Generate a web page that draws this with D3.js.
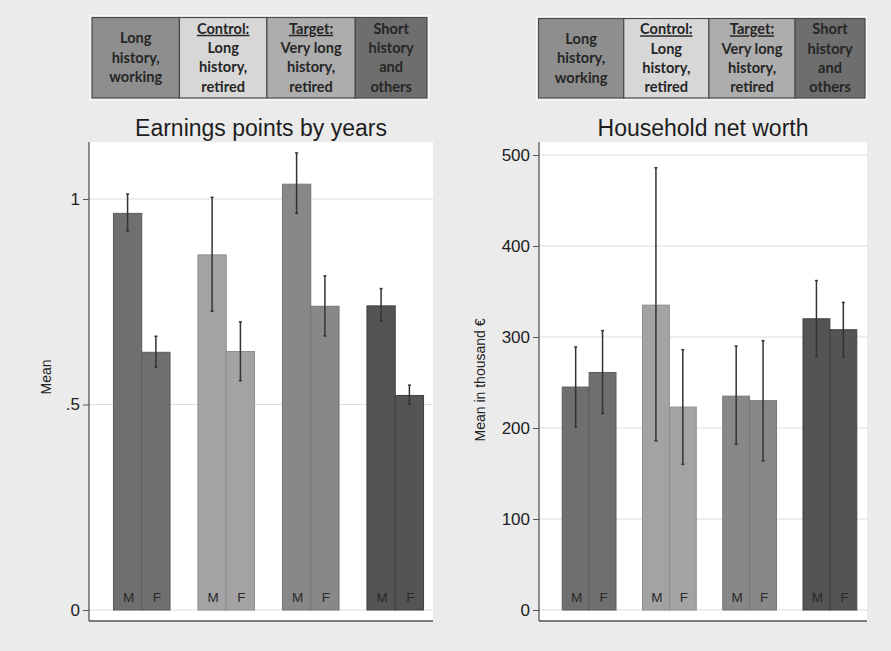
<!DOCTYPE html>
<html>
<head>
<meta charset="utf-8">
<script src="https://cdn.jsdelivr.net/npm/d3@7"></script>
<style>
  html, body { margin: 0; padding: 0; background: #ebebeb; }
  svg { display: block; }
</style>
</head>
<body>
<script>
// ---- data ----
const groups = ["Long history, working", "Control: Long history, retired",
                "Target: Very long history, retired", "Short history and others"];
const sexes = ["M", "F"];

// Earnings points by years: mean with confidence bounds
const earnMeanM = [0.965, 0.864, 1.036, 0.740];
const earnMeanF = [0.627, 0.629, 0.739, 0.522];
const earnLoM   = [0.922, 0.727, 0.965, 0.703];
const earnHiM   = [1.012, 1.004, 1.112, 0.782];
const earnLoF   = [0.591, 0.558, 0.667, 0.501];
const earnHiF   = [0.666, 0.701, 0.813, 0.547];

// Household net worth (thousand €)
const worthMeanM = [245, 335, 235, 320];
const worthMeanF = [261, 223, 230, 308];
const worthLoM   = [201, 186, 182, 278];
const worthHiM   = [289, 486, 290, 362];
const worthLoF   = [216, 160, 164, 278];
const worthHiF   = [307, 286, 296, 338];

const earnTicks  = [0, 0.5, 1];
const earnTickLabels = ["0", ".5", "1"];
const worthTicks = [0, 100, 200, 300, 400, 500];

// legend cells: header (underlined) + lines
const legendHeaders = ["", "Control:", "Target:", ""];
const legendLines = [
  ["Long", "history,", "working"],
  ["Long", "history,", "retired"],
  ["Very long", "history,", "retired"],
  ["Short", "history", "and", "others"]
];

const barFill    = ["#6f6f6f", "#a3a3a3", "#888888", "#545454"];
const barStroke  = ["#5c5c5c", "#8e8e8e", "#767676", "#404040"];
const legendFill = ["#8e8e8e", "#d7d7d7", "#adadad", "#6e6e6e"];

// ---- layout ----
const SANS = "'Liberation Sans', Arial, Helvetica, sans-serif";
const W = 891, H = 651;
const svg = d3.select("body").append("svg").attr("width", W).attr("height", H);
svg.append("rect").attr("width", W).attr("height", H).attr("fill", "#ebebeb");

function rows(mM, mF, loM, hiM, loF, hiF) {
  return groups.map((g, i) => ({
    group: g, gi: i,
    bars: [
      { sex: "M", v: mM[i], lo: loM[i], hi: hiM[i] },
      { sex: "F", v: mF[i], lo: loF[i], hi: hiF[i] }
    ]
  }));
}

function panel(cfg) {
  const g = svg.append("g");
  const { left, right, top, bottom } = cfg.frame;

  // white plot region
  g.append("rect").attr("x", left).attr("y", top)
    .attr("width", right - left).attr("height", bottom - top).attr("fill", "#ffffff");

  const y = d3.scaleLinear().domain(cfg.yDomain).range(cfg.yRange);
  const x = d3.scaleBand().domain(groups).range(cfg.xRange)
    .paddingInner(0.33).paddingOuter(0.165);
  const xs = d3.scaleBand().domain(sexes).range([0, x.bandwidth()]);

  // gridlines
  g.append("g").selectAll("line").data(cfg.ticks).join("line")
    .attr("x1", left).attr("x2", right)
    .attr("y1", d => y(d)).attr("y2", d => y(d))
    .attr("stroke", "#dedede").attr("stroke-width", 1.2);

  // bars
  const data = rows(...cfg.series);
  const grp = g.append("g").selectAll("g").data(data).join("g")
    .attr("transform", d => `translate(${x(d.group)},0)`);

  grp.selectAll("rect").data(d => d.bars.map(b => ({ ...b, gi: d.gi }))).join("rect")
    .attr("x", d => xs(d.sex))
    .attr("y", d => y(d.v))
    .attr("width", xs.bandwidth())
    .attr("height", d => y(0) - y(d.v))
    .attr("fill", d => barFill[d.gi])
    .attr("stroke", d => barStroke[d.gi])
    .attr("stroke-width", 1);

  // M / F labels at the base of each bar
  grp.selectAll("text.sx").data(d => d.bars).join("text")
    .attr("class", "sx")
    .attr("x", d => xs(d.sex) + xs.bandwidth() / 2 + 1)
    .attr("y", y(0) - 8.5)
    .attr("text-anchor", "middle")
    .attr("font-family", SANS)
    .attr("font-size", 13.5)
    .attr("fill", "#2a2a2a")
    .text(d => d.sex);

  // error bars
  const eb = grp.selectAll("g.eb").data(d => d.bars).join("g").attr("class", "eb")
    .attr("transform", d => `translate(${xs(d.sex) + xs.bandwidth() / 2},0)`);
  eb.append("line").attr("x1", 0).attr("x2", 0)
    .attr("y1", d => y(d.lo)).attr("y2", d => y(d.hi))
    .attr("stroke", "#333").attr("stroke-width", 1.5);
  eb.append("line").attr("x1", -1.5).attr("x2", 1.5)
    .attr("y1", d => y(d.hi)).attr("y2", d => y(d.hi))
    .attr("stroke", "#333").attr("stroke-width", 1.5);
  eb.append("line").attr("x1", -1.5).attr("x2", 1.5)
    .attr("y1", d => y(d.lo)).attr("y2", d => y(d.lo))
    .attr("stroke", "#333").attr("stroke-width", 1.5);

  // y axis
  const ax = d3.axisLeft(y).tickValues(cfg.ticks).tickSize(6).tickPadding(3)
    .tickFormat((d, i) => cfg.tickLabels[i]);
  const ag = g.append("g").attr("transform", `translate(${left},0)`).call(ax);
  ag.select(".domain").remove();
  ag.selectAll(".tick line").attr("stroke", "#555");
  ag.selectAll(".tick text").attr("font-family", SANS)
    .attr("font-size", 17).attr("fill", "#222");

  // axis frame lines (left + bottom)
  g.append("line").attr("x1", left).attr("x2", left).attr("y1", top).attr("y2", bottom)
    .attr("stroke", "#555").attr("stroke-width", 1.3);
  g.append("line").attr("x1", left).attr("x2", right).attr("y1", bottom).attr("y2", bottom)
    .attr("stroke", "#555").attr("stroke-width", 1.3);

  // y title
  g.append("text")
    .attr("transform", `translate(${cfg.yTitleX},${cfg.yTitleY}) rotate(-90)`)
    .attr("text-anchor", "middle")
    .attr("font-family", SANS)
    .attr("font-size", 14).attr("fill", "#222")
    .text(cfg.yTitle);

  // panel title
  g.append("text")
    .attr("x", (left + right) / 2).attr("y", 135.5)
    .attr("text-anchor", "middle")
    .attr("font-family", SANS)
    .attr("font-size", 23).attr("fill", "#1e1e1e")
    .text(cfg.title);

  // legend strip above the panel
  const L = cfg.legend;
  const lg = svg.append("g");
  const fracs = [0.261, 0.261, 0.264, 0.214];
  let cx = L.x0;
  const cells = fracs.map((f, i) => {
    const w = f * (L.x1 - L.x0);
    const c = { x: cx, w, i };
    cx += w;
    return c;
  });
  lg.append("rect").attr("x", L.x0 - 1.5).attr("y", L.y0 - 1.5)
    .attr("width", L.x1 - L.x0 + 3).attr("height", L.y1 - L.y0 + 3)
    .attr("fill", "none").attr("stroke", "#f6f6f6").attr("stroke-width", 2);
  lg.selectAll("rect.cell").data(cells).join("rect").attr("class", "cell")
    .attr("x", d => d.x).attr("y", L.y0)
    .attr("width", d => d.w).attr("height", L.y1 - L.y0)
    .attr("fill", d => legendFill[d.i])
    .attr("stroke", "#4a4a4a").attr("stroke-width", 1.2);

  const lineH = 19.3;
  const midY = (L.y0 + L.y1) / 2;
  cells.forEach(c => {
    const lines = (legendHeaders[c.i] ? [legendHeaders[c.i]] : []).concat(legendLines[c.i]);
    const n = lines.length;
    lines.forEach((t, k) => {
      const ty = midY + (k - (n - 1) / 2) * lineH + 5;
      const isHead = legendHeaders[c.i] && k === 0;
      lg.append("text")
        .attr("x", c.x + c.w / 2).attr("y", ty)
        .attr("text-anchor", "middle")
        .attr("font-family", "Lato, 'Open Sans', sans-serif")
        .attr("font-weight", 700)
        .attr("font-size", 14.6)
        .attr("fill", "#262626")
        .attr("text-decoration", isHead ? "underline" : null)
        .text(t);
    });
  });
}

panel({
  frame: { left: 89, right: 433, top: 142, bottom: 621 },
  xRange: [99.5, 437.5],
  yDomain: [0, 1], yRange: [610, 199],
  ticks: earnTicks, tickLabels: earnTickLabels,
  series: [earnMeanM, earnMeanF, earnLoM, earnHiM, earnLoF, earnHiF],
  yTitle: "Mean", yTitleX: 51, yTitleY: 377,
  title: "Earnings points by years",
  legend: { x0: 92, x1: 427, y0: 17.5, y1: 98 }
});

panel({
  frame: { left: 539, right: 867, top: 142, bottom: 621 },
  xRange: [549, 870],
  yDomain: [0, 500], yRange: [610, 155],
  ticks: worthTicks, tickLabels: worthTicks.map(String),
  series: [worthMeanM, worthMeanF, worthLoM, worthHiM, worthLoF, worthHiF],
  yTitle: "Mean in thousand €", yTitleX: 485, yTitleY: 380,
  title: "Household net worth",
  legend: { x0: 538.5, x1: 865, y0: 18.5, y1: 98 }
});
</script>
</body>
</html>
